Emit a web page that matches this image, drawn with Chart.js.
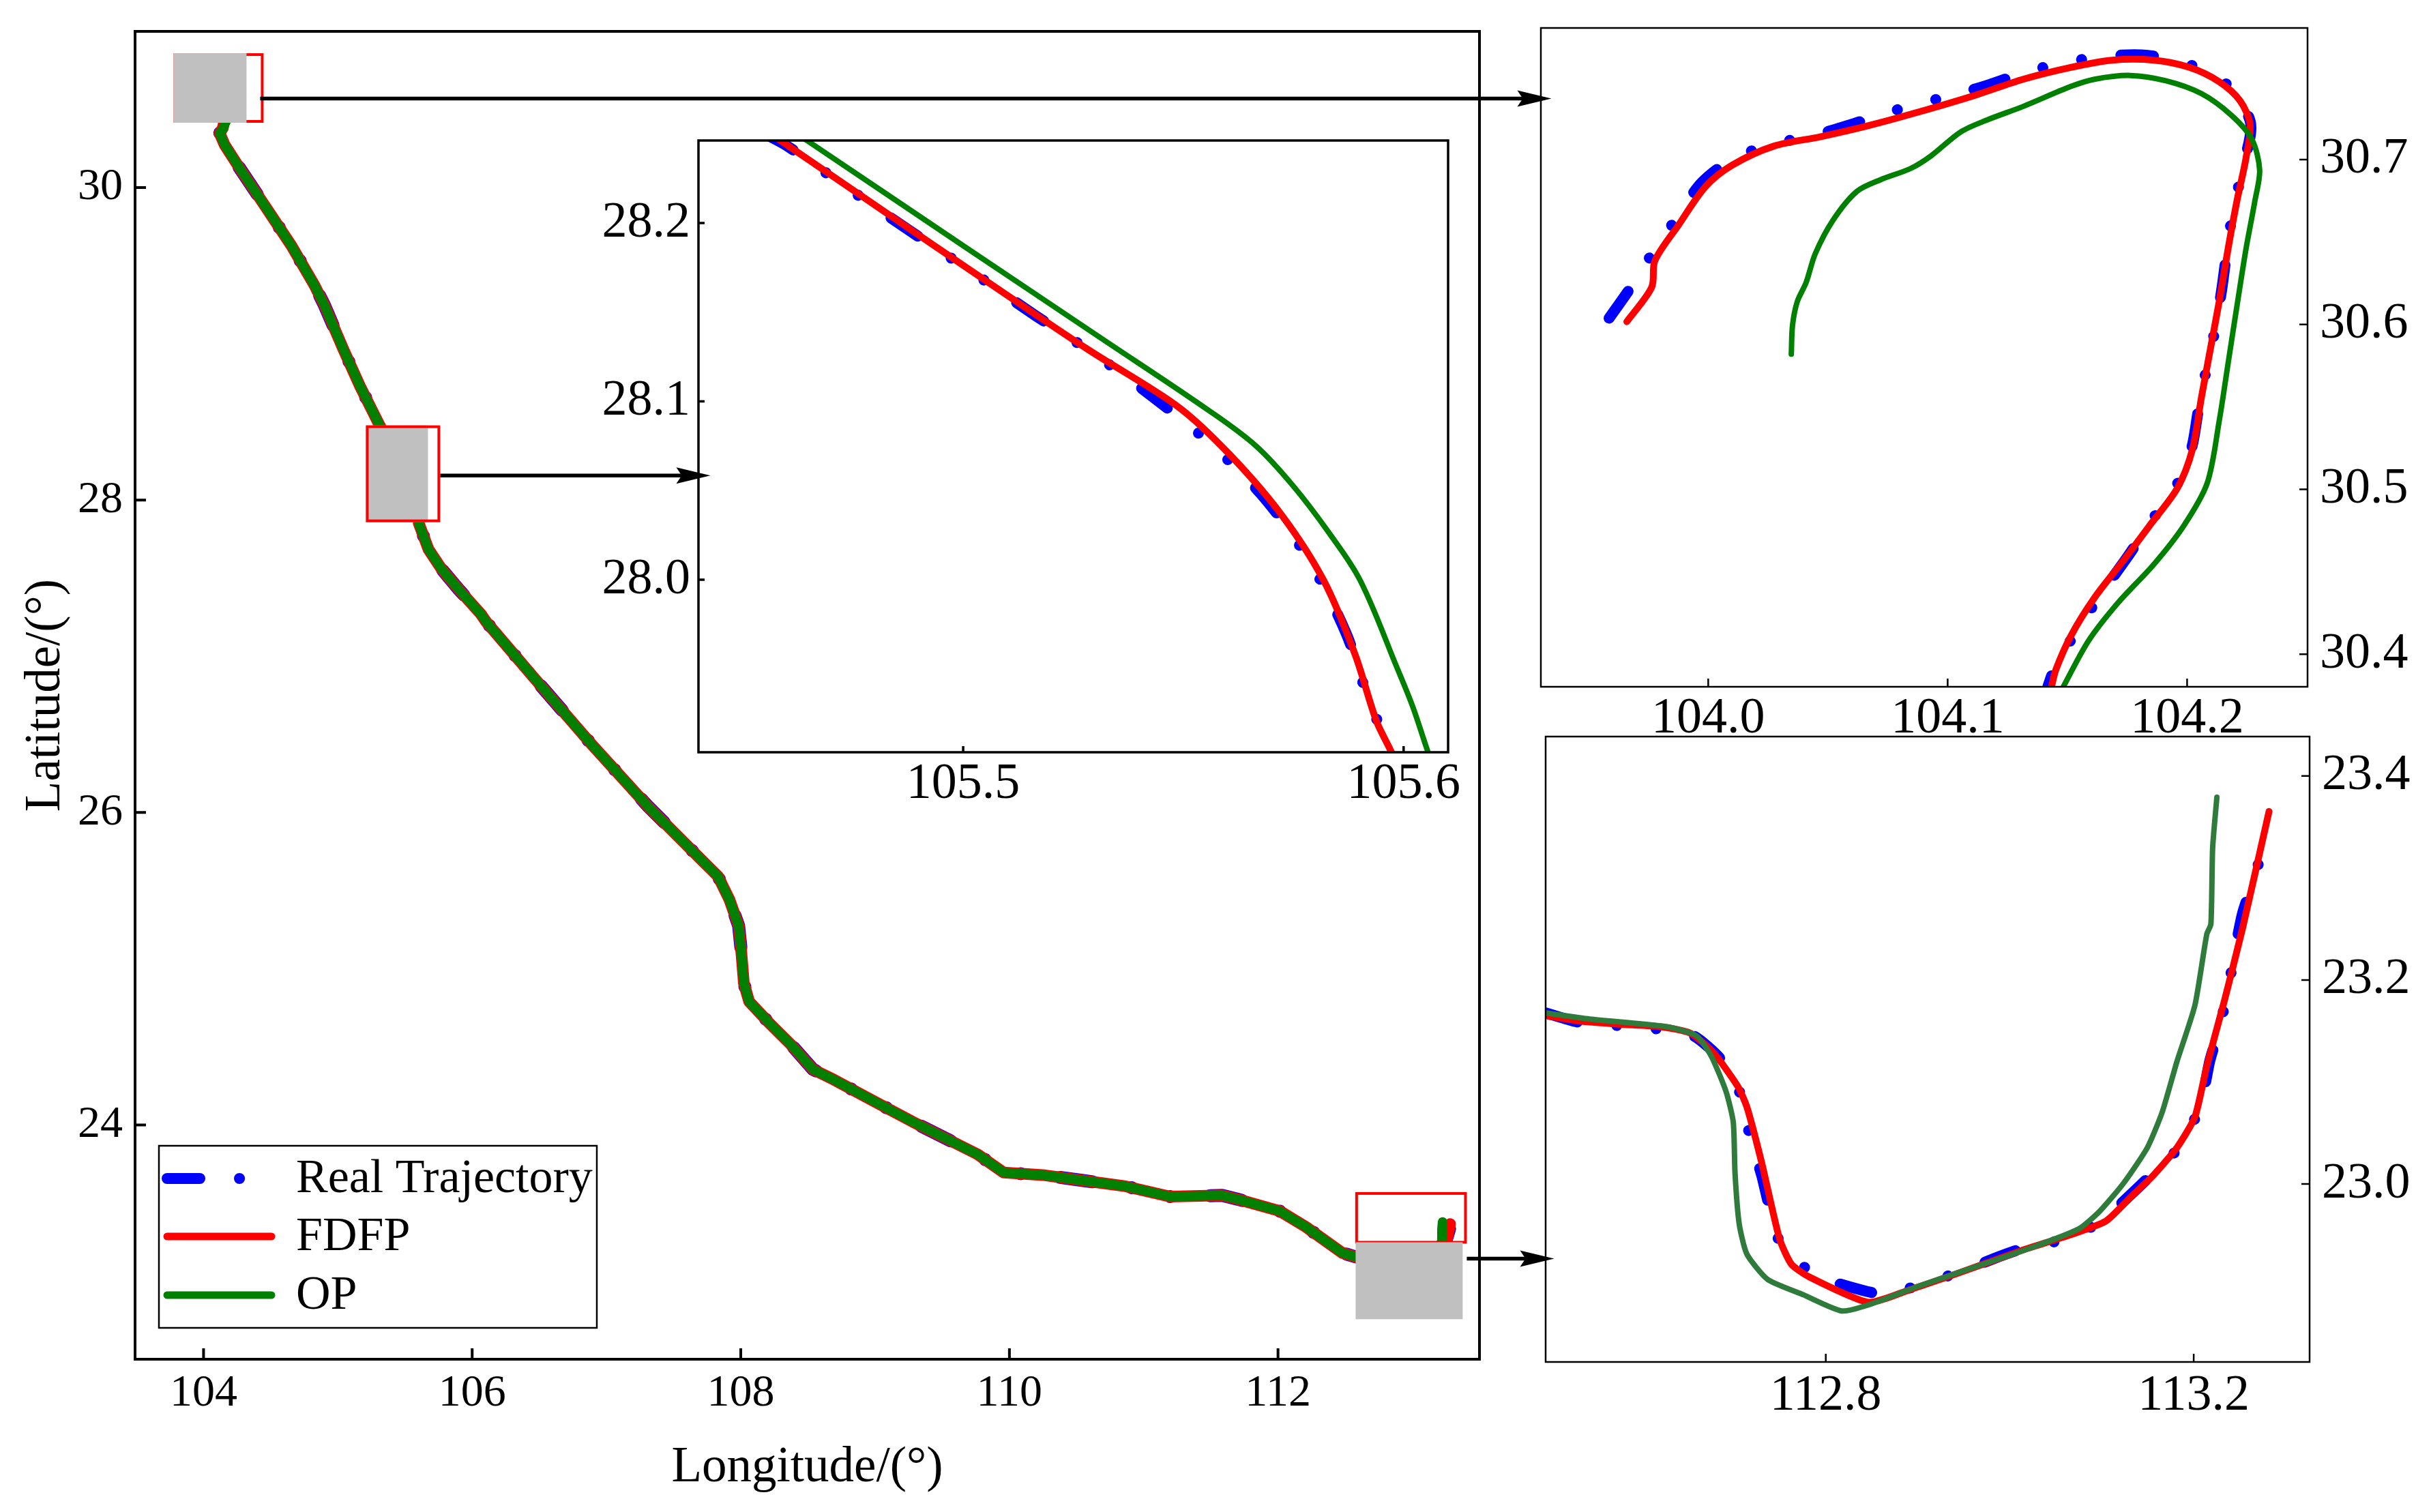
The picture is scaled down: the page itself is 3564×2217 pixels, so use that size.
<!DOCTYPE html>
<html>
<head>
<meta charset="utf-8">
<script src="https://cdn.jsdelivr.net/npm/chart.js@4.4.1/dist/chart.umd.min.js"></script>
<style>
html,body{margin:0;background:#fff}
#fig{position:relative;width:3564px;height:2217px;overflow:hidden;background:#fff}
canvas{position:absolute}
</style>
</head>
<body>
<div id="fig">
  <canvas id="in1" width="1350" height="1060" style="left:824px;top:150px"></canvas>
  <canvas id="in2" width="1364" height="1100" style="left:2200px;top:0"></canvas>
  <canvas id="in3" width="1364" height="1177" style="left:2200px;top:1040px"></canvas>
  <canvas id="main" width="3564" height="2217" style="left:0;top:0"></canvas>
</div>
<script>
/* ─── DATA ─────────────────────────────────────────── */
const LABELS=['Real Trajectory','FDFP','OP'];

// tick values
const mainXTicks=[104,106,108,110,112], mainYTicks=[24,26,28,30];
const in1XTicks=[105.5,105.6], in1YTicks=[28.0,28.1,28.2];
const in2XTicks=[104.0,104.1,104.2], in2YTicks=[30.4,30.5,30.6,30.7];
const in3XTicks=[112.8,113.2], in3YTicks=[23.0,23.2,23.4];

// inset: start of route (top right)
const in2RealLon=[103.9586,103.9677,103.9772,103.9876,103.9975,104.0119,104.0298,104.0471,104.0645,104.0794,104.0968,104.1149,104.1315,104.1464,104.1655,104.1836,104.1998,104.2134,104.2263,104.2238,104.2196,104.2171,104.2146,104.2117,104.2079,104.2047,104.2017,104.1948,104.1849,104.1757,104.1650,104.1551,104.1452,104.1419];
const in2RealLat=[30.6038,30.6226,30.6443,30.6661,30.6864,30.7017,30.7101,30.7159,30.7235,30.7304,30.7371,30.7443,30.7525,30.7580,30.7626,30.7632,30.7580,30.7501,30.7235,30.6980,30.6719,30.6501,30.6226,30.5971,30.5719,30.5481,30.5241,30.5003,30.4806,30.4603,30.4386,30.4168,30.3936,30.3806];
const in2FdfpLon=[103.9660,103.9764,103.9777,103.9876,103.9988,104.0099,104.0273,104.0471,104.0670,104.0868,104.1117,104.1315,104.1514,104.1687,104.1861,104.2010,104.2134,104.2221,104.2263,104.2246,104.2208,104.2171,104.2134,104.2097,104.2060,104.2022,104.1960,104.1849,104.1737,104.1613,104.1514,104.1452,104.1434];
const in2FdfpLat=[30.6017,30.6226,30.6386,30.6603,30.6835,30.6965,30.7081,30.7139,30.7206,30.7284,30.7391,30.7487,30.7559,30.7603,30.7603,30.7559,30.7472,30.7357,30.7212,30.7009,30.6748,30.6458,30.6139,30.5849,30.5559,30.5241,30.5009,30.4791,30.4574,30.4342,30.4110,30.3907,30.3806];
const in2OpLon=[104.0347,104.0352,104.0372,104.0409,104.0447,104.0521,104.0620,104.0720,104.0844,104.0931,104.1055,104.1166,104.1315,104.1514,104.1613,104.1762,104.1911,104.2060,104.2184,104.2270,104.2303,104.2283,104.2246,104.2208,104.2171,104.2134,104.2084,104.1985,104.1861,104.1712,104.1588,104.1484];
const in2OpLat=[30.5820,30.5994,30.6139,30.6255,30.6429,30.6632,30.6806,30.6878,30.6945,30.7023,30.7168,30.7241,30.7322,30.7443,30.7487,30.7510,30.7478,30.7400,30.7270,30.7125,30.6936,30.6748,30.6458,30.6110,30.5762,30.5414,30.5038,30.4777,30.4545,30.4313,30.4081,30.3806];

// inset: bend near 105.6E (middle)
const in1RealLon=[105.455,105.460,105.4735,105.4883,105.502,105.5165,105.5304,105.5444,105.557,105.5691,105.579,105.587,105.5923,105.5959,105.597];
const in1RealLat=[28.250,28.2433,28.2201,28.195,28.1726,28.148,28.1255,28.100,28.0745,28.0438,28.009,27.9697,27.931,27.9105,27.900];
const in1FdfpLon=[105.455,105.4587,105.4883,105.5097,105.5286,105.5488,105.5606,105.5724,105.5819,105.589,105.5938,105.5973,105.5985];
const in1FdfpLat=[28.252,28.246,28.196,28.160,28.1287,28.097,28.070,28.036,27.9994,27.958,27.921,27.903,27.895];
const in1OpLon=[105.461,105.4647,105.5002,105.531,105.5559,105.5665,105.5748,105.5831,105.5902,105.5985,105.6021,105.6056,105.607];
const in1OpLat=[28.252,28.246,28.187,28.136,28.0947,28.075,28.053,28.0262,27.9994,27.9507,27.9287,27.903,27.895];

// inset: end of route (bottom right)
const in3RealLon=[112.4955,112.5303,112.5755,112.6194,112.6561,112.6852,112.7090,112.7174,112.7303,112.7387,112.7510,112.7871,112.8271,112.8658,112.9058,112.9465,112.9884,113.0206,113.0626,113.0994,113.1303,113.1561,113.1865,113.2077,113.2174,113.2271,113.2368,113.2445,113.2529,113.2645,113.2774];
const in3RealLat=[23.1677,23.1587,23.1552,23.1517,23.1453,23.1229,23.0846,23.0468,23.0085,22.9771,22.9413,22.9114,22.8990,22.8915,22.9025,22.9139,22.9289,22.9388,22.9463,22.9637,22.9886,23.0109,23.0383,23.0781,23.1204,23.1502,23.1876,23.2274,23.2647,23.2970,23.3343];
const in3FdfpLon=[112.4955,112.5300,112.5755,112.6206,112.6529,112.6787,112.7045,112.7142,112.7303,112.7497,112.7626,112.7819,112.8465,112.8916,112.9432,113.0142,113.0658,113.1045,113.1303,113.1561,113.1819,113.2013,113.2142,113.2335,113.2529,113.2819];
const in3FdfpLat=[23.1650,23.1600,23.1567,23.1542,23.1478,23.1279,23.0955,23.0756,23.0209,22.9463,22.9214,22.9090,22.8841,22.8965,22.9124,22.9353,22.9502,22.9637,22.9861,23.0085,23.0358,23.0657,23.1154,23.1801,23.2498,23.3652];
const in3OpLon=[112.4955,112.5432,112.6271,112.6594,112.6755,112.6916,112.6994,112.7013,112.7058,112.7142,112.7368,112.7755,112.8174,112.8465,112.8981,112.9626,113.0271,113.0755,113.0981,113.1239,113.1497,113.1658,113.1819,113.2013,113.2142,113.2187,113.2206,113.2252];
const in3OpLat=[23.1677,23.1617,23.1542,23.1453,23.1254,23.0905,23.0607,23.0109,22.9612,22.9313,22.9065,22.8915,22.8756,22.8816,22.8990,22.9189,22.9388,22.9562,22.9736,23.0010,23.0358,23.0706,23.1204,23.1751,23.2448,23.2547,23.3294,23.3791];

// main route, shared stretches where the three tracks coincide
const headLon=[104.120,104.157,104.266,104.461,104.655,104.825,104.898,105.044,105.165,105.311];
const headLat=[30.348,30.274,30.128,29.878,29.627,29.376,29.251,28.959,28.729,28.478];
const midLon=[105.602,105.675,105.772,105.894,106.064,106.104,106.482,106.883,107.304,107.683,107.830,107.916,107.984,108.004,108.023,108.062,108.208,108.383,108.538,108.694,108.985,109.277,109.568,109.763,109.957,110.248,110.540,110.865,111.195,111.584,111.701,112.012,112.206,112.478,112.575];
const midLat=[27.852,27.684,27.559,27.434,27.271,27.221,26.841,26.442,26.044,25.718,25.592,25.441,25.275,25.107,24.907,24.790,24.656,24.506,24.355,24.289,24.155,24.021,23.896,23.812,23.695,23.679,23.645,23.607,23.541,23.549,23.524,23.449,23.348,23.181,23.156];

// zoom boxes, shading and arrows on the main map (lon/lat)
const boxLon=[[103.777,104.447],[105.209,105.762],[112.575,113.406]];
const boxLat=[[30.415,30.860],[27.858,28.478],[23.240,23.570]];
const shadeLon=[[103.777,104.320],[105.209,105.671],[112.578,113.375]];
const shadeLat=[[30.415,30.860],[27.858,28.478],[22.756,23.249]];
const shadeOnTop=[true,false,true];
const arrowLon=[[104.4215,114.0355],[105.7623,107.7735],[113.4055,114.056]];
const arrowLat=[30.570,28.157,23.144];

/* ─── HELPERS ──────────────────────────────────────── */
const FONT='"Liberation Serif","Times New Roman",Times,serif';
const BLUE='#0000ff',RED='#ff0000',GREEN='#008000',GREEN3='#2e7b3b';
const DASH=[48,58,0.1,58,0.1,58];
const pts=(xs,ys)=>xs.map((v,i)=>({x:v,y:ys[i]}));
const after=(lon,lat,lim)=>{const k=lon.findIndex(v=>v>lim);return[lon.slice(k),lat.slice(k)];};
function join(parts){const lo=[],la=[];parts.forEach(p=>{lo.push(...p[0]);la.push(...p[1]);});return pts(lo,la);}

function axis(min,max,ticks,o){
  return{type:'linear',min,max,position:o.pos,
    grid:{display:false,drawTicks:false},border:{display:false},
    afterBuildTicks:s=>{s.ticks=ticks.map(v=>({value:v}));},
    afterFit:s=>{if(o.h)s.height=o.h;if(o.w)s.width=o.w;s.paddingTop=s.paddingBottom=s.paddingLeft=s.paddingRight=0;},
    ticks:{autoSkip:false,maxRotation:0,minRotation:0,padding:o.pad,color:'#000',
      font:{family:FONT,size:o.fs},callback:o.fmt||(v=>v)},
    title:o.title?{display:true,text:o.title,color:'#000',font:{family:FONT,size:73},padding:o.tpad}:{display:false}
  };
}

function line(label,data,color,width,extra){
  return Object.assign({label,data,showLine:true,borderColor:color,backgroundColor:color,borderWidth:width,
    pointRadius:0,borderCapStyle:'round',borderJoinStyle:'round',fill:false},extra||{});
}

/* ─── PLUGINS ──────────────────────────────────────── */
const frame={id:'frame',afterDatasetsDraw(c,a,o){
  const{ctx,chartArea:r,scales:{x,y}}=c;
  ctx.save();ctx.strokeStyle='#000';ctx.lineWidth=o.lw;ctx.lineCap='butt';ctx.setLineDash([]);
  ctx.beginPath();
  x.ticks.forEach(t=>{const p=x.getPixelForValue(t.value);ctx.moveTo(p,r.bottom);ctx.lineTo(p,r.bottom-o.tl);});
  y.ticks.forEach(t=>{const p=y.getPixelForValue(t.value);
    if(y.options.position==='right'){ctx.moveTo(r.right,p);ctx.lineTo(r.right-o.tl,p);}
    else{ctx.moveTo(r.left,p);ctx.lineTo(r.left+o.tl,p);}});
  ctx.stroke();
  ctx.strokeRect(r.left,r.top,r.right-r.left,r.bottom-r.top);
  ctx.restore();
}};

const zoomMarks={id:'zoomMarks',afterDatasetsDraw(c){
  const{ctx,scales:{x,y}}=c;
  ctx.save();ctx.setLineDash([]);
  boxLon.forEach((bl,i)=>{
    const rx0=x.getPixelForValue(bl[0]),rx1=x.getPixelForValue(bl[1]);
    const ry0=y.getPixelForValue(boxLat[i][1]),ry1=y.getPixelForValue(boxLat[i][0]);
    const sx0=x.getPixelForValue(shadeLon[i][0]),sx1=x.getPixelForValue(shadeLon[i][1]);
    const sy0=y.getPixelForValue(shadeLat[i][1]),sy1=y.getPixelForValue(shadeLat[i][0]);
    const red=()=>{ctx.strokeStyle=RED;ctx.lineWidth=4;ctx.strokeRect(rx0+2,ry0+2,rx1-rx0-4,ry1-ry0-4);};
    const shade=()=>{ctx.fillStyle='#c0c0c0';ctx.fillRect(sx0,sy0,sx1-sx0,sy1-sy0);};
    if(shadeOnTop[i]){red();shade();}else{shade();red();}
  });
  arrowLon.forEach((al,i)=>{
    const x0=x.getPixelForValue(al[0]),x1=x.getPixelForValue(al[1]),yy=y.getPixelForValue(arrowLat[i]);
    ctx.strokeStyle='#000';ctx.lineWidth=5.5;ctx.lineCap='butt';
    ctx.beginPath();ctx.moveTo(x0,yy);ctx.lineTo(x1-38,yy);ctx.stroke();
    ctx.fillStyle='#000';ctx.beginPath();
    ctx.moveTo(x1,yy);ctx.lineTo(x1-50,yy-12);ctx.lineTo(x1-42,yy);ctx.lineTo(x1-50,yy+12);ctx.closePath();ctx.fill();
  });
  ctx.restore();
}};

const legendBox={id:'legendBox',afterDraw(c,a,o){
  const{ctx,chartArea:r}=c;
  const x0=r.left+35,y0=r.bottom-313,w=642,h=267;
  ctx.save();
  ctx.fillStyle='#fff';ctx.fillRect(x0,y0,w,h);
  ctx.strokeStyle='#000';ctx.lineWidth=2.5;ctx.setLineDash([]);ctx.strokeRect(x0,y0,w,h);
  const rows=[48,133,219],widths=[16,11,11];
  LABELS.forEach((lab,i)=>{
    const ds=c.data.datasets.find(d=>d.label===lab);
    const yy=y0+rows[i];
    ctx.strokeStyle=ds.borderColor;ctx.lineWidth=widths[i];ctx.lineCap='round';
    ctx.setLineDash(ds.borderDash||[]);
    ctx.beginPath();ctx.moveTo(x0+12,yy);ctx.lineTo(x0+165,yy);ctx.stroke();
    ctx.setLineDash([]);
    ctx.fillStyle='#000';ctx.font='70px '+FONT;ctx.textBaseline='middle';ctx.textAlign='left';
    ctx.fillText(lab,x0+201,yy+2);
  });
  ctx.restore();
}};

const base={responsive:false,animation:false,devicePixelRatio:1,
  plugins:{legend:{display:false},tooltip:{enabled:false}},events:[]};

/* ─── MAIN MAP ─────────────────────────────────────── */
const [t3RLo,t3RLa]=after(in3RealLon,in3RealLat,112.6);
const [t3FLo,t3FLa]=after(in3FdfpLon,in3FdfpLat,112.6);
const [t3OLo,t3OLa]=after(in3OpLon,in3OpLat,112.6);

new Chart(document.getElementById('main'),{
  type:'scatter',
  data:{datasets:[
    line('Real Trajectory',join([[in2RealLon,in2RealLat],[headLon,headLat],[in1RealLon,in1RealLat],[midLon,midLat],[t3RLo,t3RLa]]),BLUE,19,{borderDash:DASH,order:2}),
    line('FDFP',join([[in2FdfpLon,in2FdfpLat],[headLon,headLat],[in1FdfpLon,in1FdfpLat],[midLon,midLat],[t3FLo,t3FLa]]),RED,17,{order:1}),
    line('OP',join([[in2OpLon,in2OpLat],[headLon,headLat],[in1OpLon,in1OpLat],[midLon,midLat],[t3OLo,t3OLa]]),GREEN,14,{order:0})
  ]},
  options:Object.assign({},base,{
    layout:{padding:{left:0,top:46,right:1395,bottom:0}},
    scales:{
      x:axis(103.49,113.5,mainXTicks,{pos:'bottom',h:224,pad:11,fs:66,title:'Longitude/(°)',tpad:{top:0,bottom:20}}),
      y:axis(22.5,31.0,mainYTicks,{pos:'left',w:198,pad:18,fs:66,title:'Latitude/(°)',tpad:{top:24,bottom:0}})
    },
    plugins:Object.assign({},base.plugins,{frame:{lw:4,tl:16}})
  }),
  plugins:[zoomMarks,frame,legendBox]
});

/* ─── INSETS ───────────────────────────────────────── */
function inset(id,cfg,sets){
  const f1=v=>Number(v).toFixed(1);
  new Chart(document.getElementById(id),{
    type:'scatter',
    data:{datasets:sets},
    options:Object.assign({},base,{
      layout:{padding:cfg.padding},
      scales:{
        x:axis(cfg.x[0],cfg.x[1],cfg.xt,{pos:'bottom',h:cfg.xh,pad:cfg.xpad,fs:74,fmt:f1}),
        y:axis(cfg.y[0],cfg.y[1],cfg.yt,{pos:cfg.ypos,w:cfg.yw,pad:cfg.ypad,fs:74,fmt:f1})
      },
      plugins:Object.assign({},base.plugins,{frame:{lw:cfg.lw,tl:cfg.tl}})
    }),
    plugins:[frame]
  });
}

inset('in1',{padding:{left:0,top:56,right:51,bottom:0},x:[105.4399,105.6101],y:[27.9033,28.2463],
  xt:in1XTicks,yt:in1YTicks,xh:107,yw:200,xpad:3,ypad:12,ypos:'left',lw:3.5,tl:9},[
  line('Real Trajectory',pts(in1RealLon,in1RealLat),BLUE,16,{borderDash:DASH,order:2,tension:0.3}),
  line('FDFP',pts(in1FdfpLon,in1FdfpLat),RED,10,{order:1,tension:0.3}),
  line('OP',pts(in1OpLon,in1OpLat),GREEN,8,{order:0,tension:0.35})
]);

inset('in2',{padding:{left:59,top:41,right:0,bottom:0},x:[103.9301,104.2503],y:[30.3803,30.7798],
  xt:in2XTicks,yt:in2YTicks,xh:93,yw:181,xpad:3,ypad:18,ypos:'right',lw:2.5,tl:12},[
  line('Real Trajectory',pts(in2RealLon,in2RealLat),BLUE,16,{borderDash:DASH,order:2,tension:0.3}),
  line('FDFP',pts(in2FdfpLon,in2FdfpLat),RED,10,{order:1,tension:0.3}),
  line('OP',pts(in2OpLon,in2OpLat),GREEN,8,{order:0,tension:0.3})
]);

inset('in3',{padding:{left:66,top:40,right:0,bottom:0},x:[112.4954,113.3260],y:[22.8256,23.4386],
  xt:in3XTicks,yt:in3YTicks,xh:220,yw:178,xpad:6,ypad:18,ypos:'right',lw:2.5,tl:12},[
  line('Real Trajectory',pts(in3RealLon,in3RealLat),BLUE,16,{borderDash:DASH,order:2,tension:0.2}),
  line('FDFP',pts(in3FdfpLon,in3FdfpLat),RED,10,{order:1,tension:0.2}),
  line('OP',pts(in3OpLon,in3OpLat),GREEN3,8,{order:0,tension:0.2})
]);
</script>
</body>
</html>
